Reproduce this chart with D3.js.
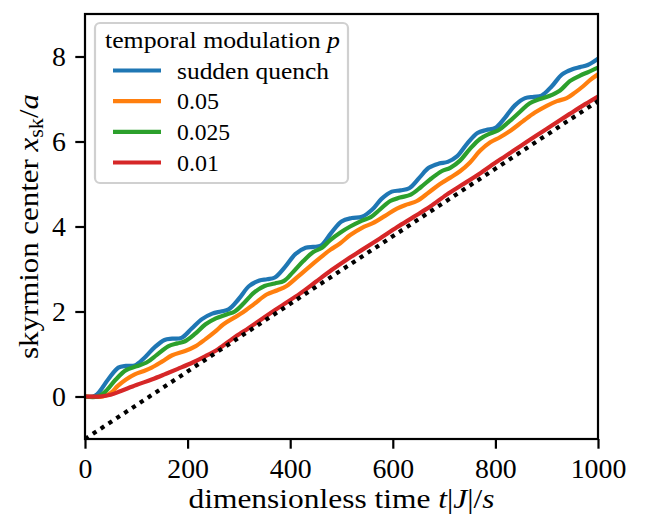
<!DOCTYPE html>
<html>
<head>
<meta charset="utf-8">
<script src="https://cdn.jsdelivr.net/npm/d3@7"></script>
<style>
  body { margin: 0; background: #fff; }
  svg { display: block; }
  text { font-family: "Liberation Serif", "DejaVu Serif", serif; fill: #000; }
</style>
</head>
<body>
<svg id="chart" width="653" height="523"></svg>
<script>
// Tick values
const xTicks = [0, 200, 400, 600, 800, 1000];
const yTicks = [0, 2, 4, 6, 8];

// Legend entries and colours
const seriesNames = ["sudden quench", "0.05", "0.025", "0.01"];
const seriesColors = ["#1f77b4", "#ff7f0e", "#2ca02c", "#d62728"];

// Skyrmion centre x_sk/a versus time t|J|/s, one [t, x] list per modulation
const suddenQuench = [
  [0, 0], [20, 0.02], [45, 0.4], [65, 0.68], [80, 0.72], [97, 0.73], [115, 0.9],
  [135, 1.15], [155, 1.33], [170, 1.36], [188, 1.38], [208, 1.6], [228, 1.82],
  [248, 1.95], [265, 2.0], [280, 2.05], [300, 2.3], [320, 2.6], [340, 2.73],
  [355, 2.76], [370, 2.8], [390, 3.05], [410, 3.35], [430, 3.5], [445, 3.52],
  [460, 3.55], [480, 3.85], [500, 4.12], [520, 4.2], [540, 4.23], [560, 4.4],
  [578, 4.65], [598, 4.82], [615, 4.85], [632, 4.9], [652, 5.15], [670, 5.38],
  [690, 5.48], [707, 5.52], [725, 5.65], [745, 5.95], [765, 6.2], [782, 6.27],
  [800, 6.32], [818, 6.55], [838, 6.85], [858, 7.02], [875, 7.05], [890, 7.08],
  [910, 7.3], [930, 7.58], [950, 7.7], [965, 7.75], [980, 7.8], [1000, 7.95]
];
const modulation005 = [
  [0, 0], [35, 0], [50, 0.08], [64, 0.25], [80, 0.4], [97, 0.52], [115, 0.6],
  [130, 0.68], [150, 0.82], [170, 0.97], [195, 1.07], [215, 1.18], [235, 1.35],
  [253, 1.52], [270, 1.7], [290, 1.85], [308, 1.98], [330, 2.18], [354, 2.4],
  [375, 2.5], [393, 2.6], [415, 2.82], [439, 3.07], [460, 3.28], [478, 3.45],
  [497, 3.6], [517, 3.8], [540, 3.97], [561, 4.08], [585, 4.25], [608, 4.42],
  [628, 4.52], [647, 4.6], [670, 4.8], [692, 5.0], [712, 5.15], [731, 5.3],
  [750, 5.5], [770, 5.78], [790, 5.98], [809, 6.1], [830, 6.26], [854, 6.48],
  [877, 6.68], [900, 6.84], [920, 6.95], [939, 7.02], [955, 7.15], [971, 7.3],
  [985, 7.45], [1000, 7.58]
];
const modulation0025 = [
  [0, 0], [25, 0], [40, 0.12], [60, 0.4], [80, 0.62], [100, 0.71], [120, 0.8],
  [140, 0.98], [162, 1.18], [180, 1.25], [195, 1.3], [215, 1.48], [235, 1.7],
  [255, 1.84], [276, 1.93], [292, 2.0], [310, 2.2], [330, 2.45], [350, 2.6],
  [370, 2.66], [388, 2.72], [405, 2.92], [425, 3.18], [445, 3.4], [462, 3.5],
  [478, 3.68], [498, 3.86], [517, 4.0], [540, 4.14], [557, 4.22], [575, 4.4],
  [595, 4.6], [614, 4.68], [635, 4.75], [655, 4.93], [675, 5.13], [695, 5.3],
  [712, 5.38], [731, 5.55], [750, 5.82], [770, 6.06], [788, 6.18], [805, 6.26],
  [825, 6.45], [848, 6.7], [867, 6.9], [887, 7.0], [905, 7.07], [926, 7.2],
  [945, 7.42], [965, 7.55], [982, 7.64], [1000, 7.74]
];
const modulation001 = [
  [0, 0], [30, 0], [50, 0.04], [70, 0.13], [100, 0.27], [130, 0.4], [155, 0.52],
  [181, 0.65], [210, 0.8], [235, 0.95], [260, 1.12], [289, 1.37], [320, 1.62],
  [354, 1.9], [385, 2.15], [419, 2.42], [450, 2.7], [480, 2.97], [510, 3.22],
  [540, 3.45], [575, 3.72], [608, 3.98], [640, 4.22], [673, 4.47], [705, 4.75],
  [735, 4.98], [760, 5.17], [790, 5.42], [820, 5.66], [850, 5.9], [880, 6.14],
  [913, 6.4], [945, 6.65], [975, 6.88], [1000, 7.06]
];
// Asymptotic drift line
const asymptote = [[0, -1], [1000, 6.95]];

const allSeries = [suddenQuench, modulation005, modulation0025, modulation001];

// Layout
const plot = { left: 85, right: 598, top: 14, bottom: 439 };
const tickFont = 27.8, legendFont = 23;

const svg = d3.select("#chart");

const x = d3.scaleLinear().domain([0, 1000]).range([plot.left, plot.right]);
const y = d3.scaleLinear().domain([-1, 9]).range([plot.bottom, plot.top]);

svg.append("defs").append("clipPath").attr("id", "plot-clip")
  .append("rect")
  .attr("x", plot.left).attr("y", plot.top)
  .attr("width", plot.right - plot.left).attr("height", plot.bottom - plot.top);

const line = d3.line()
  .x(d => x(d[0]))
  .y(d => y(d[1]))
  .curve(d3.curveCatmullRom.alpha(0.5));

const lines = svg.append("g").attr("clip-path", "url(#plot-clip)");

allSeries.forEach((s, i) => {
  lines.append("path")
    .datum(s)
    .attr("fill", "none")
    .attr("stroke", seriesColors[i])
    .attr("stroke-width", 4.2)
    .attr("stroke-linejoin", "round")
    .attr("stroke-linecap", "square")
    .attr("d", line);
});

lines.append("path")
  .datum(asymptote)
  .attr("fill", "none")
  .attr("stroke", "#000")
  .attr("stroke-width", 4.2)
  .attr("stroke-dasharray", "4.2,5.2")
  .attr("d", d3.line().x(d => x(d[0])).y(d => y(d[1])));

// Axes
const xAxis = d3.axisBottom(x).tickValues(xTicks).tickSize(9.7).tickPadding(9.5)
  .tickFormat(d3.format("d"));
const yAxis = d3.axisLeft(y).tickValues(yTicks).tickSize(9.7).tickPadding(9.5)
  .tickFormat(d3.format("d"));

const gx = svg.append("g").attr("transform", `translate(0,${plot.bottom})`).call(xAxis);
const gy = svg.append("g").attr("transform", `translate(${plot.left},0)`).call(yAxis);

[gx, gy].forEach(g => {
  g.select(".domain").remove();
  g.selectAll(".tick line").attr("stroke", "#000").attr("stroke-width", 2.2);
  g.selectAll(".tick text")
    .style("font-family", '"Liberation Serif", serif')
    .style("font-size", tickFont + "px")
    .attr("fill", "#000");
});

// Frame
svg.append("rect")
  .attr("x", plot.left).attr("y", plot.top)
  .attr("width", plot.right - plot.left).attr("height", plot.bottom - plot.top)
  .attr("fill", "none").attr("stroke", "#000").attr("stroke-width", 2.2);

// Axis titles
const xLabel = svg.append("text")
  .attr("x", (plot.left + plot.right) / 2).attr("y", 508)
  .attr("text-anchor", "middle")
  .attr("textLength", 306).attr("lengthAdjust", "spacingAndGlyphs")
  .style("font-size", tickFont + "px");
xLabel.append("tspan").text("dimensionless time ");
xLabel.append("tspan").attr("font-style", "italic").text("t");
xLabel.append("tspan").text("|");
xLabel.append("tspan").attr("font-style", "italic").text("J");
xLabel.append("tspan").text("|/");
xLabel.append("tspan").attr("font-style", "italic").text("s");

const yLabel = svg.append("text")
  .attr("transform", `translate(38,${(plot.top + plot.bottom) / 2}) rotate(-90)`)
  .attr("text-anchor", "middle")
  .attr("textLength", 265).attr("lengthAdjust", "spacingAndGlyphs")
  .style("font-size", tickFont + "px");
yLabel.append("tspan").text("skyrmion center ");
yLabel.append("tspan").attr("font-style", "italic").text("x");
yLabel.append("tspan").attr("dy", 5).style("font-size", "20px").text("sk");
yLabel.append("tspan").attr("dy", -5).text("/");
yLabel.append("tspan").attr("font-style", "italic").text("a");

// Legend
const legend = svg.append("g");
legend.append("rect")
  .attr("x", 95).attr("y", 23).attr("width", 253).attr("height", 160)
  .attr("rx", 5).attr("ry", 5)
  .attr("fill", "#fff").attr("fill-opacity", 0.8)
  .attr("stroke", "#d0d0d0").attr("stroke-width", 2.2);

const legendTitle = legend.append("text")
  .attr("x", 105).attr("y", 48)
  .attr("textLength", 235).attr("lengthAdjust", "spacingAndGlyphs")
  .style("font-size", legendFont + "px");
legendTitle.append("tspan").text("temporal modulation ");
legendTitle.append("tspan").attr("font-style", "italic").text("p");

const labelWidths = [152, 42, 53, 42];
const rowY = d3.scaleLinear().domain([0, 3]).range([70.5, 162.5]);
seriesNames.forEach((name, i) => {
  const yy = rowY(i);
  legend.append("line")
    .attr("x1", 113).attr("x2", 161).attr("y1", yy).attr("y2", yy)
    .attr("stroke", seriesColors[i]).attr("stroke-width", 4.2);
  legend.append("text")
    .attr("x", 177).attr("y", yy + 8)
    .attr("textLength", labelWidths[i]).attr("lengthAdjust", "spacingAndGlyphs")
    .style("font-size", legendFont + "px")
    .text(name);
});
</script>
</body>
</html>
